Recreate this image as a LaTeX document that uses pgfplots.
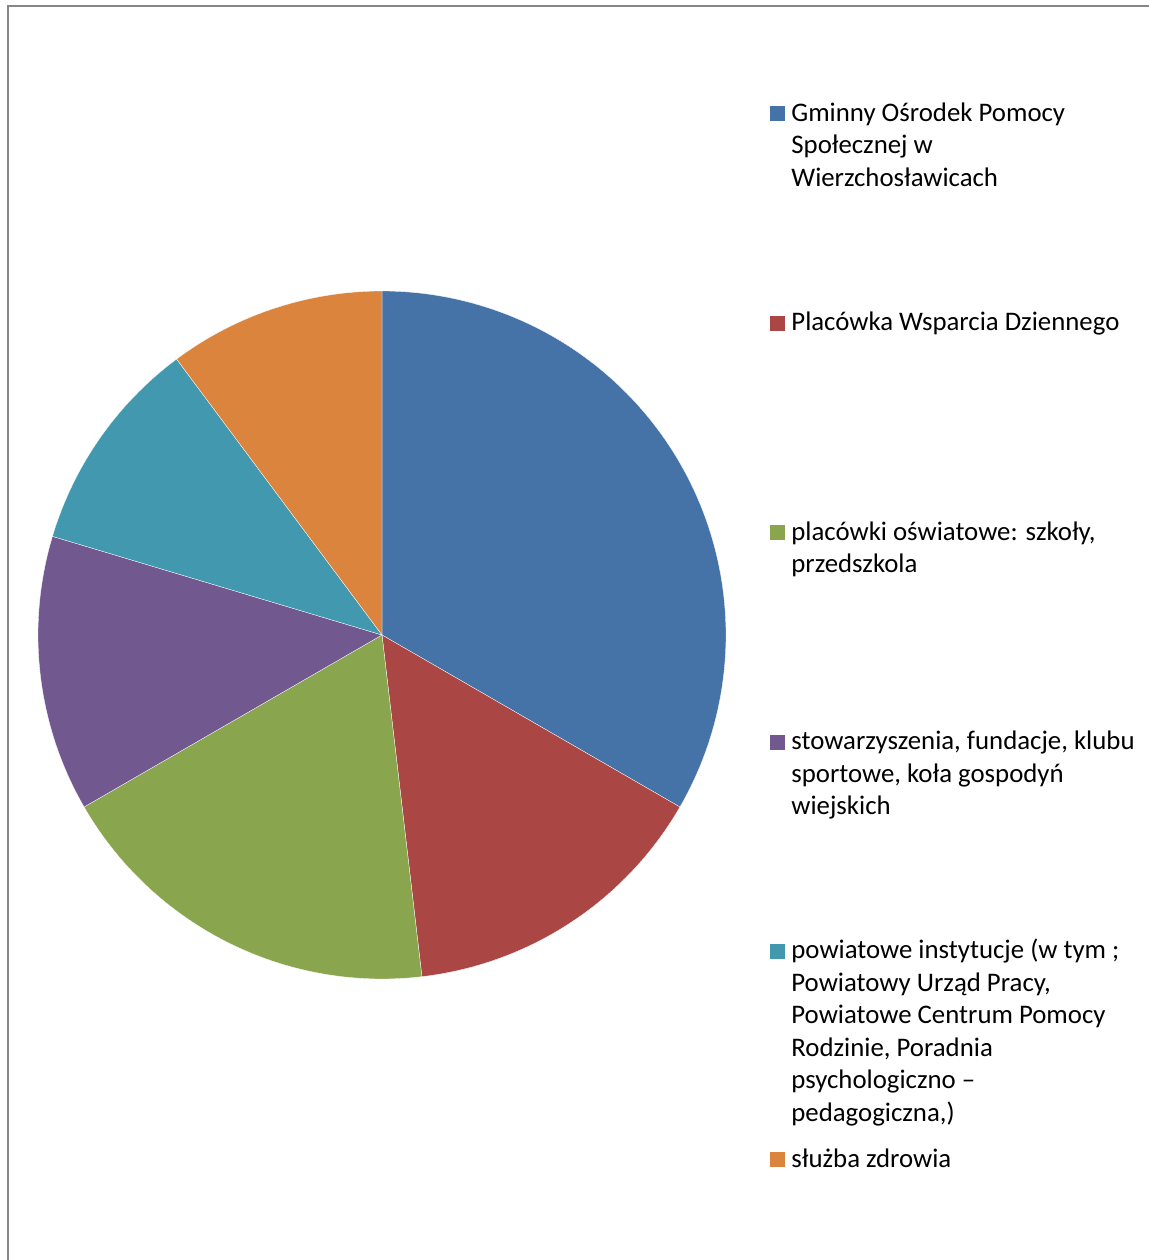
\documentclass[border=0pt]{standalone}
\usepackage{pgfplots}
\pgfplotsset{compat=1.18}
\usepackage{pgfplotstable}
\usepackage{fontspec}
\setmainfont{Carlito}
\definecolor{c1}{HTML}{4572A7}
\definecolor{c2}{HTML}{AA4643}
\definecolor{c3}{HTML}{89A54E}
\definecolor{c4}{HTML}{71588F}
\definecolor{c5}{HTML}{4198AF}
\definecolor{c6}{HTML}{DB843D}
\definecolor{framegray}{HTML}{878787}
\pgfplotstableread{
value
36
16
20
14
11
11
}\piedata
\newcommand\legsq[2]{\fill[#1] (770,#2-15) rectangle (785,#2);}
\newcommand\legln[2]{\node[anchor=base west, inner sep=0pt, text=black] at (791,#1) {#2};}
\begin{document}%
\begin{tikzpicture}[font=\fontsize{13.4pt}{16.25pt}\selectfont]
\pgfplotstablegetelem{0}{value}\of\piedata\let\vA\pgfplotsretval
\pgfplotstablegetelem{1}{value}\of\piedata\let\vB\pgfplotsretval
\pgfplotstablegetelem{2}{value}\of\piedata\let\vC\pgfplotsretval
\pgfplotstablegetelem{3}{value}\of\piedata\let\vD\pgfplotsretval
\pgfplotstablegetelem{4}{value}\of\piedata\let\vE\pgfplotsretval
\pgfplotstablegetelem{5}{value}\of\piedata\let\vF\pgfplotsretval
\pgfmathsetmacro\tot{\vA+\vB+\vC+\vD+\vE+\vF}
\pgfmathsetmacro\aA{90}
\pgfmathsetmacro\aB{\aA-360*\vA/\tot}
\pgfmathsetmacro\aC{\aB-360*\vB/\tot}
\pgfmathsetmacro\aD{\aC-360*\vC/\tot}
\pgfmathsetmacro\aE{\aD-360*\vD/\tot}
\pgfmathsetmacro\aF{\aE-360*\vE/\tot}
\pgfmathsetmacro\aG{\aF-360*\vF/\tot}
\useasboundingbox (0,0) rectangle (574.5pt,630pt);
\clip (0,0) rectangle (574.5pt,630pt);
\begin{axis}[x=0.5pt,y=0.5pt,xmin=-350,xmax=350,ymin=-350,ymax=350,
  hide axis, at={(191pt,312.5pt)}, anchor=center, clip=false]
\addplot[fill=c1, draw=white, line width=0.15pt, domain=\aB:\aA, samples=120, variable=\t] ({344*cos(\t)},{344*sin(\t)}) -- (0,0) -- cycle;
\addplot[fill=c2, draw=white, line width=0.15pt, domain=\aC:\aB, samples=80, variable=\t] ({344*cos(\t)},{344*sin(\t)}) -- (0,0) -- cycle;
\addplot[fill=c3, draw=white, line width=0.15pt, domain=\aD:\aC, samples=80, variable=\t] ({344*cos(\t)},{344*sin(\t)}) -- (0,0) -- cycle;
\addplot[fill=c4, draw=white, line width=0.15pt, domain=\aE:\aD, samples=80, variable=\t] ({344*cos(\t)},{344*sin(\t)}) -- (0,0) -- cycle;
\addplot[fill=c5, draw=white, line width=0.15pt, domain=\aF:\aE, samples=80, variable=\t] ({344*cos(\t)},{344*sin(\t)}) -- (0,0) -- cycle;
\addplot[fill=c6, draw=white, line width=0.15pt, domain=\aG:\aF, samples=80, variable=\t] ({344*cos(\t)},{344*sin(\t)}) -- (0,0) -- cycle;
\end{axis}
\begin{scope}[x=0.5pt,y=-0.5pt,yshift=630pt]
\draw[framegray, line width=1pt] (8,1300) -- (8,6) -- (1200,6);
\legsq{c1}{121.5}
\legln{121.5}{Gminny Ośrodek Pomocy}
\legln{154}{Społecznej w}
\legln{186.5}{Wierzchosławicach}
\legsq{c2}{331}
\legln{331}{Placówka Wsparcia Dziennego}
\legsq{c3}{540.5}
\legln{540.5}{placówki oświatowe: szkoły,}
\legln{573}{przedszkola}
\legsq{c4}{750}
\legln{750}{stowarzyszenia, fundacje, klubu}
\legln{782.5}{sportowe, koła gospodyń}
\legln{815}{wiejskich}
\legsq{c5}{959}
\legln{959}{powiatowe instytucje (w tym ;}
\legln{991.5}{Powiatowy Urząd Pracy,}
\legln{1024}{Powiatowe Centrum Pomocy}
\legln{1056.5}{Rodzinie, Poradnia}
\legln{1089}{psychologiczno –}
\legln{1121.5}{pedagogiczna,)}
\legsq{c6}{1167.5}
\legln{1167.5}{służba zdrowia}
\end{scope}
\end{tikzpicture}%
\end{document}
